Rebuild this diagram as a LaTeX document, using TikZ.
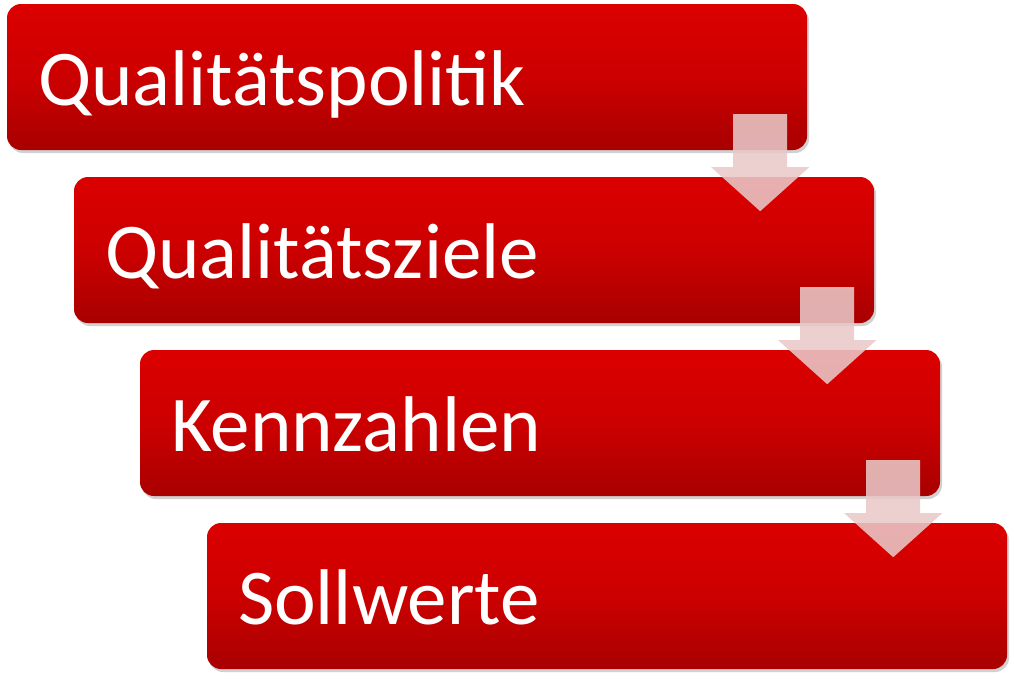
\documentclass[tikz,border=0pt]{standalone}
\usepackage{fontspec}
\setmainfont{Carlito}
\usetikzlibrary{shadows,calc}
\definecolor{redtop}{RGB}{219,0,0}
\definecolor{redmid}{RGB}{204,0,0}
\definecolor{redbot}{RGB}{168,0,0}
\definecolor{arrowpink}{RGB}{233,200,200}
\tikzset{
  stepbox/.style={rectangle, rounded corners=14pt, minimum width=800pt, minimum height=146pt,
    inner sep=0pt, top color=redtop, bottom color=redbot, middle color=redmid,
    drop shadow={shadow xshift=2pt, shadow yshift=-3pt, opacity=0.3, fill=black!60}},
  steptext/.style={anchor=base west, text=white, inner sep=0pt,
    font=\fontsize{79}{90}\selectfont},
  downarrow/.style={fill=arrowpink, fill opacity=0.88, draw=none}
}
\begin{document}
\begin{tikzpicture}[x=1pt,y=-1pt]
\useasboundingbox (0,0) rectangle (1014,681);
\node[stepbox] (b1) at (407,77) {};
\node[stepbox] (b2) at (474,250) {};
\node[stepbox] (b3) at (540,423) {};
\node[stepbox] (b4) at (607,596) {};
\node[steptext] (t1) at ($(b1.west)+(31,28)$) {Qualitätspolitik};
\node[steptext] (t2) at ($(b2.west)+(31,28)$) {Qualitätsziele};
\node[steptext] (t3) at ($(b3.west)+(31,28)$) {Kennzahlen};
\node[steptext] (t4) at ($(b4.west)+(31,28)$) {Sollwerte};
\foreach \a in {b1,b2,b3}{
  \fill[downarrow] ($(\a.south east)+(-74,-36)$) -- ($(\a.south east)+(-20,-36)$)
    -- ($(\a.south east)+(-20,17)$) -- ($(\a.south east)+(2,17)$)
    -- ($(\a.south east)+(-47,61)$) -- ($(\a.south east)+(-96,17)$)
    -- ($(\a.south east)+(-74,17)$) -- cycle;
}
\end{tikzpicture}
\end{document}
